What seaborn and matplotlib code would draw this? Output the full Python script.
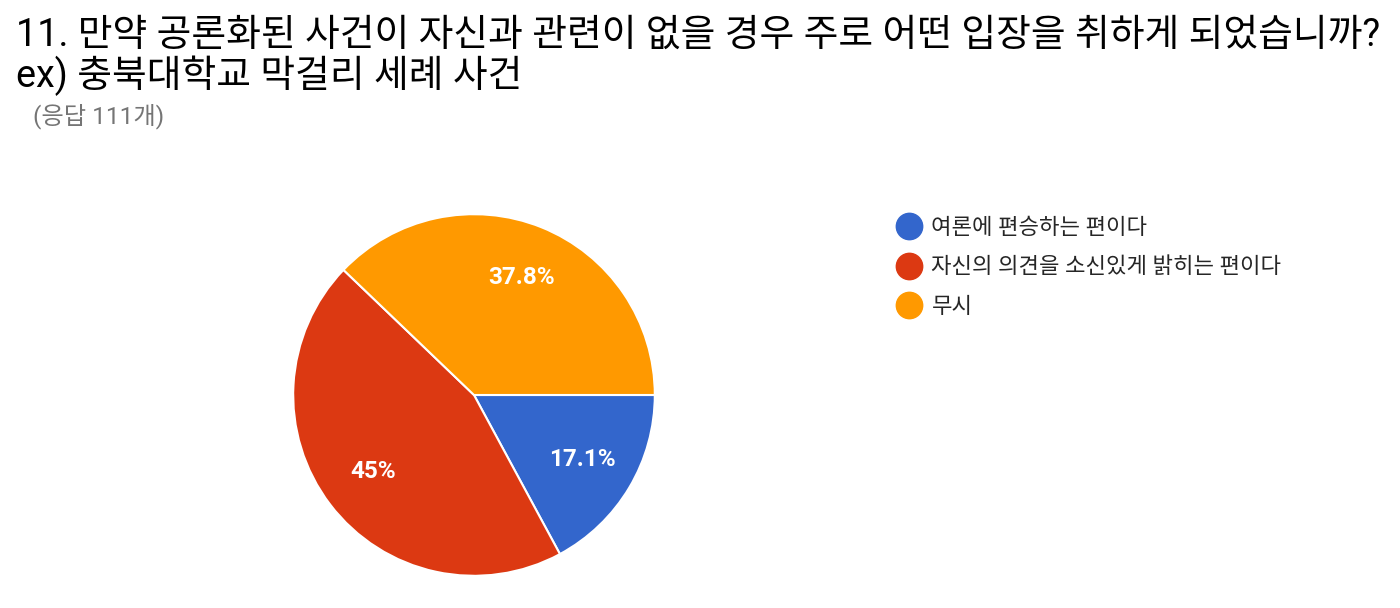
import matplotlib
matplotlib.use('Agg')
import matplotlib.pyplot as plt
import seaborn as sns
from matplotlib.lines import Line2D

sns.set_style('white')
plt.rcParams['font.family'] = ['Roboto', 'Noto Sans CJK KR', 'DejaVu Sans']

# data
categories = ['여론에 편승하는 편이다', '자신의 의견을 소신있게 밝히는 편이다', '무시']
counts = [19, 50, 42]
colors = ['#3366cc', '#dc3912', '#ff9900']
title_line1 = '11. 만약 공론화된 사건이 자신과 관련이 없을 경우 주로 어떤 입장을 취하게 되었습니까?'
title_line2 = 'ex) 충북대학교 막걸리 세례 사건'
subtitle = '(응답 111개)'

fig = plt.figure(figsize=(14, 6.08), dpi=100)

fig.text(16 / 1400, 1 - 35 / 608, title_line1, fontsize=27.2, va='center', ha='left', color='#000000')
fig.text(16 / 1400, 1 - 76 / 608, title_line2, fontsize=27.2, va='center', ha='left', color='#000000')
fig.text(33 / 1400, 1 - 116 / 608, subtitle, fontsize=17.5, va='center', ha='left', color='#757575')

# pie
r = 226
ax = fig.add_axes([(474 - r) / 1400, (213 - r) / 608, 2 * r / 1400, 2 * r / 608])


def pct_fmt(p):
    s = f'{p:.1f}'
    if s.endswith('.0'):
        s = s[:-2]
    return s + '%'


wedges, texts, autotexts = ax.pie(counts, colors=colors, startangle=0, counterclock=False,
                                  autopct=pct_fmt, pctdistance=0.7,
                                  wedgeprops={'edgecolor': 'white', 'linewidth': 1.5})
for t in autotexts:
    t.set_color('white')
    t.set_fontsize(17.5)
    t.set_fontweight('bold')
ax.set_aspect('equal')

# legend
handles = [Line2D([0], [0], marker='o', linestyle='', markersize=19,
                  markerfacecolor=c, markeredgecolor=c) for c in colors]
fig.legend(handles, categories, loc='upper left', bbox_to_anchor=(887 / 1400, 1 - 207 / 608),
           frameon=False, fontsize=16, handletextpad=0.5, labelspacing=0.82,
           handlelength=1.0, borderpad=0)

plt.savefig('out.png', dpi=100)
